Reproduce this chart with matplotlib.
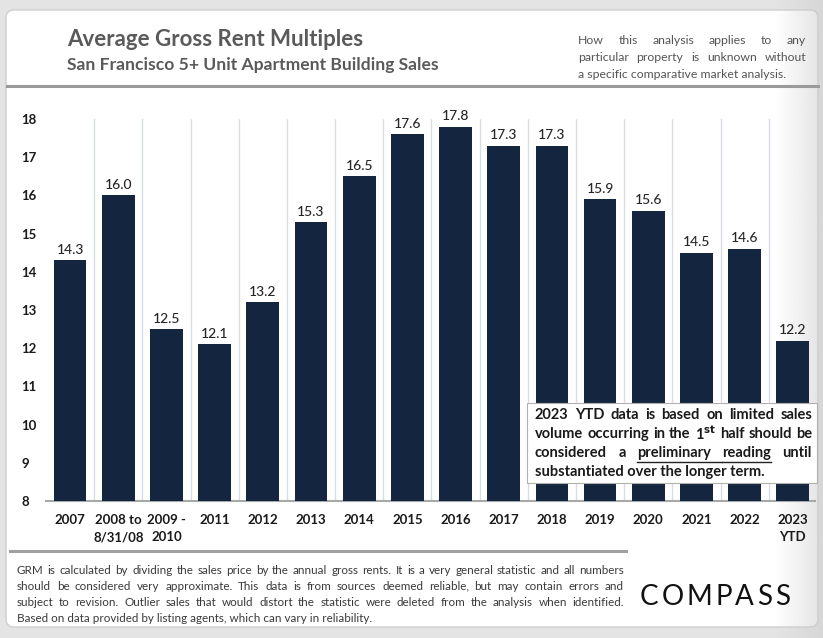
import matplotlib
matplotlib.use("Agg")
import matplotlib.pyplot as plt
import matplotlib.transforms as mtransforms
import numpy as np
from matplotlib.patches import FancyBboxPatch, Rectangle
from matplotlib.lines import Line2D

# data
categories = ["2007", "2008 to\n8/31/08", "2009 -\n2010", "2011", "2012", "2013", "2014",
              "2015", "2016", "2017", "2018", "2019", "2020", "2021", "2022", "2023\nYTD"]
grm = [14.3, 16.0, 12.5, 12.1, 13.2, 15.3, 16.5, 17.6, 17.8, 17.3, 17.3, 15.9, 15.6, 14.5, 14.6, 12.2]
yticks = list(range(8, 19))

TITLE = "Average Gross Rent Multiples"
SUBTITLE = "San Francisco 5+ Unit Apartment Building Sales"
NOTE = ["How this analysis applies to any",
        "particular property is unknown without",
        "a specific comparative market analysis."]
BOX = ["2023 YTD data is based on limited sales",
       "volume occurring in the 1st half should be",
       "considered a preliminary reading until",
       "substantiated over the longer term."]
FOOT = ["GRM is calculated by dividing the sales price by the annual gross rents. It is a very general statistic and all numbers",
        "should be considered very approximate. This data is from sources deemed reliable, but may contain errors and",
        "subject to revision. Outlier sales that would distort the statistic were deleted from the analysis when identified.",
        "Based on data provided by listing agents, which can vary in reliability."]

NAVY = "#14253f"
W, H = 823, 638
FONT = "Lato"

fig = plt.figure(figsize=(W / 100, H / 100), dpi=100)
fig.patch.set_facecolor("#e4e4e4")
px = mtransforms.Affine2D().scale(1 / W, -1 / H).translate(0, 1) + fig.transFigure

# card
fig.patches.append(FancyBboxPatch((6, 10), 812, 617, boxstyle="round,pad=0,rounding_size=8",
                                  transform=px, facecolor="white", edgecolor="#cfcfcf", lw=1, zorder=0))
fig.lines.append(Line2D([7, 818], [86, 86], transform=px, color="#9a9a9a", lw=2.2))
fig.lines.append(Line2D([10, 626], [551, 551], transform=px, color="#a0a0a0", lw=2.2))

# grey fade on the right edge of the card
gax = fig.add_axes([775 / W, 0, (W - 775) / W, 1])
ramp = np.linspace(0, 0.55, 60)
grad = np.zeros((2, 60, 4))
grad[..., :3] = 0.80
grad[..., 3] = ramp
gax.imshow(grad, aspect="auto", extent=[0, 1, 0, 1])
gax.set_axis_off()
gax.set_zorder(1)

fig.text(67, 40, TITLE, transform=px, fontsize=16, fontweight="bold", color="#5a5a5a",
         family=FONT, va="center")
fig.text(67, 65, SUBTITLE, transform=px, fontsize=12.6, fontweight="bold", color="#5a5a5a",
         family=FONT, va="center")

renderer = fig.canvas.get_renderer()


def justified(lines, x0, x1, y0, dy, just_last=False, underline=None, **kw):
    for li, line in enumerate(lines):
        y = y0 + li * dy
        words = line.split(" ")
        last = li == len(lines) - 1
        if last and not just_last:
            fig.text(x0, y, line, transform=px, va="center", ha="left", **kw)
            continue
        objs = [fig.text(0, y, w, transform=px, va="center", ha="left", **kw) for w in words]
        widths = [o.get_window_extent(renderer).width for o in objs]
        gap = (x1 - x0 - sum(widths)) / max(len(words) - 1, 1)
        x = x0
        for o, w, wd in zip(objs, words, widths):
            o.set_x(x)
            if underline and w in underline:
                end = x + wd + (gap if w != underline[-1] else 0)
                fig.lines.append(Line2D([x, end], [y + 9, y + 9], transform=px, color="#222",
                                        lw=1, zorder=7))
            x += wd + gap


justified(NOTE, 578, 806, 41, 16.5, fontsize=8.8, color="#555555", family=FONT, zorder=3)

# main axes
ax = fig.add_axes([46 / W, 1 - 501 / H, (815 - 46) / W, (501 - 119) / H])
ax.set_zorder(2)
x = range(len(categories))
ax.bar(x, grm, width=0.68, color=NAVY, zorder=3)
for i, v in enumerate(grm):
    ax.text(i, v + 0.12, f"{v:.1f}", ha="center", va="bottom", fontsize=10,
            color="#262626", family=FONT, fontweight="medium")
for i in range(len(categories) - 1):
    ax.axvline(i + 0.5, color="#d8dde4", lw=1, zorder=1)
ax.set_xlim(-0.5, 15.46)
ax.set_ylim(8, 18)
ax.set_yticks(yticks)
ax.set_xticks(list(x))
ax.set_xticklabels(categories)
for lab in ax.get_xticklabels() + ax.get_yticklabels():
    lab.set_fontweight("bold")
    lab.set_family(FONT)
    lab.set_fontsize(9.5)
    lab.set_color("#1a1a1a")
for lab in ax.get_xticklabels():
    lab.set_linespacing(1.55)
ax.tick_params(length=0, pad=9)
ax.tick_params(axis="y", pad=18)
for lab in ax.get_yticklabels():
    lab.set_horizontalalignment("left")
for s in ["top", "right", "left"]:
    ax.spines[s].set_visible(False)
ax.spines["bottom"].set_color("#a8a8a8")
ax.spines["bottom"].set_linewidth(1.5)
ax.set_facecolor("none")

# note box over the last bars
fig.patches.append(Rectangle((527, 403), 290, 80, transform=px, facecolor="white",
                             edgecolor="#b0b0b0", lw=0.8, zorder=5))
box_kw = dict(fontsize=10.5, fontweight="bold", color="#1a1a1a", family=FONT, zorder=6)
BOX_SHOW = [BOX[0], BOX[1].replace("1st", "1$^{\\mathbf{st}}$"), BOX[2], BOX[3]]
justified(BOX_SHOW, 535, 812, 415, 19, underline=["preliminary", "reading"], **box_kw)

justified(FOOT, 17, 624, 570, 16, fontsize=8.4, color="#3a3a3a", family=FONT, zorder=3)

# logo with wide letter spacing
letters = [fig.text(0, 597, ch, transform=px, fontsize=20, color="#111111", family=FONT,
                    ha="left", va="center", zorder=3) for ch in "COMPASS"]
lw_ = [t.get_window_extent(renderer).width for t in letters]
step = (790 - 640 - sum(lw_)) / (len(letters) - 1)
lx = 640
for t, wd in zip(letters, lw_):
    t.set_x(lx)
    lx += wd + step

fig.savefig("out.png", dpi=100, facecolor=fig.get_facecolor())
